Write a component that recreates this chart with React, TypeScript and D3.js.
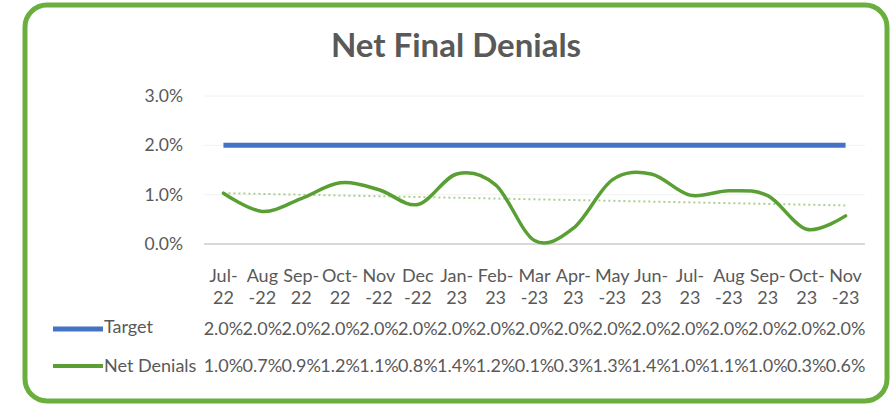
import React from "react";
import * as d3 from "d3";

const catTop = ["Jul-","Aug","Sep-","Oct-","Nov","Dec","Jan-","Feb-","Mar","Apr-","May","Jun-","Jul-","Aug","Sep-","Oct-","Nov"];
const catBottom = ["22","-22","22","22","-22","-22","23","23","-23","23","-23","23","23","-23","23","23","-23"];
const categories = catTop.map((t, i) => t + catBottom[i]);
const targetValues = [0.02,0.02,0.02,0.02,0.02,0.02,0.02,0.02,0.02,0.02,0.02,0.02,0.02,0.02,0.02,0.02,0.02];
const netDenialValues = [0.0103,0.0066,0.0092,0.0124,0.011,0.008,0.0142,0.012,0.0007,0.0032,0.013,0.0142,0.0099,0.0108,0.0098,0.003,0.0057];
const yTicks = [0, 0.01, 0.02, 0.03];
const seriesNames = ["Target", "Net Denials"];

const W = 896, H = 405;
const FONT = "Lato, 'Open Sans', sans-serif";
const TXT = "#595959";

export default function App() {
  const x = d3.scaleBand<string>().domain(categories).range([204, 865]).padding(0);
  const cx = (c: string) => (x(c) as number) + x.bandwidth() / 2;
  const y = d3.scaleLinear().domain([0, 0.03]).range([244, 96]);
  const fmt = d3.format(".1%");

  const smooth = d3.line<number>()
    .x((_, i) => cx(categories[i]))
    .y(d => y(d))
    .curve(d3.curveCatmullRom.alpha(0));
  const straight = d3.line<number>()
    .x((_, i) => cx(categories[i]))
    .y(d => y(d));

  // linear trendline of Net Denials
  const idx = netDenialValues.map((_, i) => i);
  const mx = d3.mean(idx) as number;
  const my = d3.mean(netDenialValues) as number;
  const slope = d3.sum(idx, i => (i - mx) * (netDenialValues[i] - my)) / d3.sum(idx, i => (i - mx) ** 2);
  const n = categories.length - 1;
  const t0 = my - slope * mx, t1 = my + slope * (n - mx);

  const rowCat1 = 276, rowCat2 = 298, rowTarget = 329, rowNet = 366;

  return (
    <svg width={W} height={H} style={{ position: "absolute", left: 0, top: 0 }} fontFamily={FONT}>
      <rect x={0} y={0} width={W} height={H} fill="#fff" />
      <rect x={25} y={5} width={862} height={396} rx={22} ry={22} fill="#fff" stroke="#6aaf3d" strokeWidth={5} />
      <text x={456} y={57} textAnchor="middle" fontSize={33} fontWeight={700} fill={TXT}>Net Final Denials</text>

      {yTicks.map(t => (
        <g key={t}>
          <line x1={204} x2={865} y1={y(t)} y2={y(t)} stroke={t === 0 ? "#d9d9d9" : "#f2f2f2"} strokeWidth={t === 0 ? 2 : 1} />
          <text x={183} y={y(t)} dy="0.35em" textAnchor="end" fontSize={17.5} fill={TXT}>{fmt(t)}</text>
        </g>
      ))}

      <path d={straight(targetValues) as string} fill="none" stroke="#4472c4" strokeWidth={5} />
      <line x1={cx(categories[0])} x2={cx(categories[n])} y1={y(t0)} y2={y(t1)} stroke="#a9d18e" strokeWidth={2} strokeDasharray="2 3" />
      <path d={smooth(netDenialValues) as string} fill="none" stroke="#5a9f33" strokeWidth={3.5} strokeLinecap="round" />

      {categories.map((c, i) => (
        <g key={c} fontSize={18} fill={TXT} textAnchor="middle">
          <text x={cx(c)} y={rowCat1} dy="0.35em">{catTop[i]}</text>
          <text x={cx(c)} y={rowCat2} dy="0.35em">{catBottom[i]}</text>
          <text x={cx(c)} y={rowTarget} dy="0.35em">{fmt(targetValues[i])}</text>
          <text x={cx(c)} y={rowNet} dy="0.35em">{fmt(netDenialValues[i])}</text>
        </g>
      ))}

      <line x1={53} x2={103} y1={rowTarget} y2={rowTarget} stroke="#4472c4" strokeWidth={5} />
      <text x={104} y={rowTarget - 2} dy="0.35em" fontSize={18} fill={TXT}>{seriesNames[0]}</text>
      <line x1={53} x2={103} y1={rowNet} y2={rowNet} stroke="#5a9f33" strokeWidth={4} />
      <text x={104} y={rowNet} dy="0.35em" fontSize={18} fill={TXT}>{seriesNames[1]}</text>
    </svg>
  );
}
